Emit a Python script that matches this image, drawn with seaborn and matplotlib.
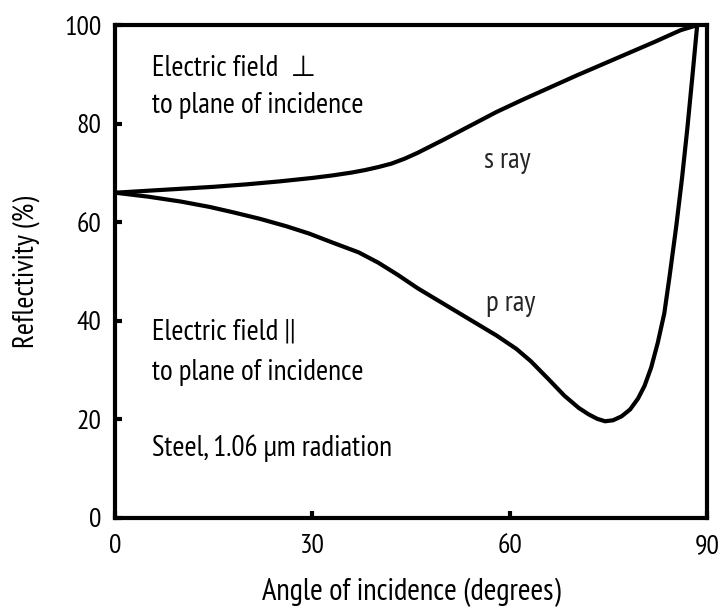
import numpy as np
import pandas as pd
import matplotlib
matplotlib.use("Agg")
import matplotlib.pyplot as plt
import seaborn as sns

# Values (angle in degrees, reflectivity in %)
s_angle = [0, 5, 10, 15, 20, 25, 30, 33, 36, 38, 40, 42, 44, 46, 50, 54, 58, 62, 66, 70, 74, 78,
           82, 86, 88.5]
s_refl = [66, 66.4, 66.8, 67.2, 67.7, 68.3, 69.0, 69.5, 70.1, 70.6, 71.2, 71.9, 72.9, 74.1, 76.8,
          79.6, 82.4, 84.9, 87.3, 89.7, 92.0, 94.3, 96.6, 99.0, 100]

p_angle = [0, 5, 10, 14.4, 18, 22, 26, 29.5, 33, 37, 40, 43, 46, 50, 54, 58, 61, 63.2, 66,
           68.3, 70.5, 72, 73.3, 74.5, 75.7, 77, 78.3, 79.5, 80.5, 81.5, 82.5, 83.5, 84.3, 85.3,
           86.2, 87, 87.8, 88.5]
p_refl = [66, 65.2, 64.2, 63.1, 62.0, 60.7, 59.2, 57.7, 55.9, 53.9, 51.8, 49.3, 46.6, 43.4,
          40.2, 37.0, 34.3, 31.8, 28.0, 24.8, 22.3, 21.0, 20.1, 19.6, 19.8, 20.6, 22.0, 24.2, 26.8,
          30.5, 35.5, 41.5, 49.0, 59.0, 69.0, 79.0, 90.0, 100]

x_ticks = [0, 30, 60, 90]
y_ticks = [0, 20, 40, 60, 80, 100]

s_df = pd.DataFrame({"angle": s_angle, "refl": s_refl})
p_df = pd.DataFrame({"angle": p_angle, "refl": p_refl})

sns.set_style("ticks")
plt.rcParams["font.family"] = ["PT Sans Narrow", "DejaVu Sans"]

fig = plt.figure(figsize=(7.2, 6.15), dpi=100)
ax = fig.add_axes([0.160, 0.158, 0.822, 0.801])

sns.lineplot(data=s_df, x="angle", y="refl", ax=ax, color="black", linewidth=3, sort=False)
sns.lineplot(data=p_df, x="angle", y="refl", ax=ax, color="black", linewidth=3, sort=False)

ax.set_xlim(0, 90)
ax.set_ylim(0, 100)
ax.set_xticks(x_ticks)
ax.set_yticks(y_ticks)
ax.tick_params(axis="both", direction="in", length=5, width=3, labelsize=20,
               color="black", labelcolor="black")
ax.tick_params(axis="x", pad=12)
ax.tick_params(axis="y", pad=10)
for sp in ax.spines.values():
    sp.set_visible(True)
    sp.set_linewidth(3)
    sp.set_color("black")

ax.set_xlabel("Angle of incidence (degrees)", fontsize=22, labelpad=14, color="black")
ax.set_ylabel("Reflectivity (%)", fontsize=21, labelpad=17, color="black")

txt = dict(fontsize=21, color="black", va="center", ha="left")
ax.text(5.6, 91.3, "Electric field  \u22a5", **txt)
ax.text(5.6, 83.8, "to plane of incidence", **txt)
ax.text(5.6, 37.7, "Electric field ||", **txt)
ax.text(5.6, 29.6, "to plane of incidence", **txt)
ax.text(5.6, 14.2, "Steel, 1.06 \u03bcm radiation", **txt)
ax.text(59.7, 72.6, "s ray", fontsize=21, ha="center", va="center")
ax.text(60.1, 43.6, "p ray", fontsize=21, ha="center", va="center")

fig.savefig("out.png", dpi=100)
